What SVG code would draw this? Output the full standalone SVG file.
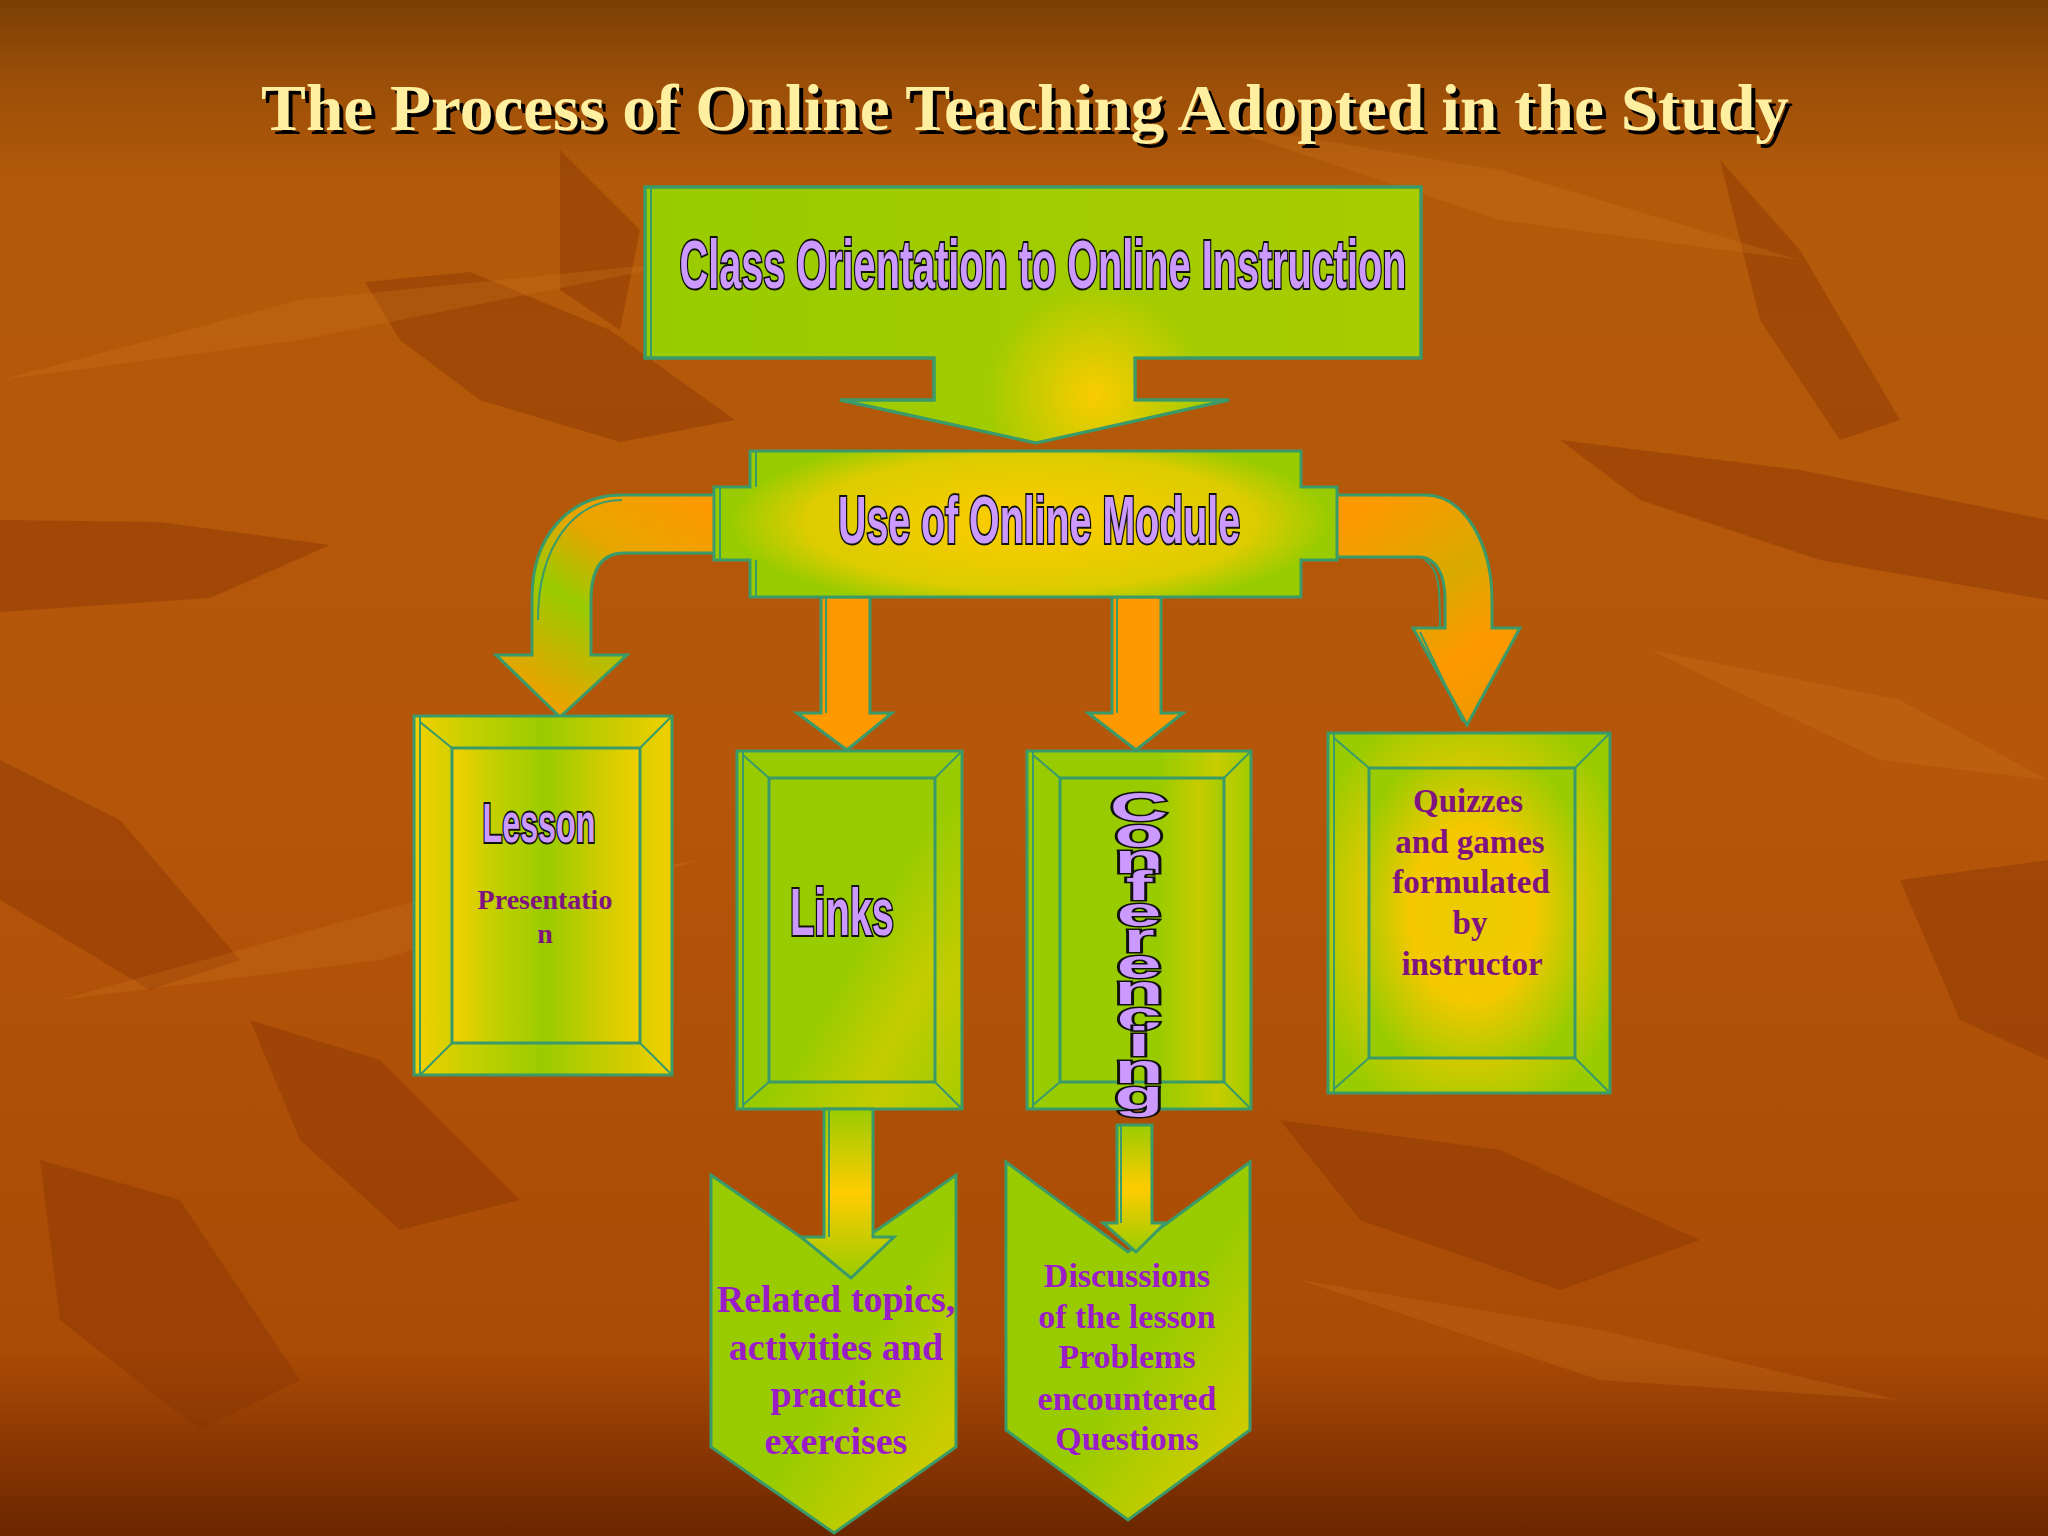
<svg xmlns="http://www.w3.org/2000/svg" width="2048" height="1536" viewBox="0 0 2048 1536">
<defs>
<linearGradient id="bg" x1="0" y1="0" x2="0" y2="1">
<stop offset="0" stop-color="#7A3F05"/>
<stop offset="0.05" stop-color="#9A4E08"/>
<stop offset="0.12" stop-color="#B35A0A"/>
<stop offset="0.5" stop-color="#B5560A"/>
<stop offset="0.88" stop-color="#AA4B06"/>
<stop offset="0.94" stop-color="#8C3803"/>
<stop offset="1" stop-color="#6A2600"/>
</linearGradient>
<linearGradient id="gTop" x1="0" y1="0" x2="1" y2="0">
<stop offset="0" stop-color="#99CC00"/>
<stop offset="1" stop-color="#A8CC00"/>
</linearGradient>
<radialGradient id="gTopGlow" cx="1095" cy="395" r="110" gradientUnits="userSpaceOnUse">
<stop offset="0" stop-color="#FFCC00" stop-opacity="0.95"/>
<stop offset="1" stop-color="#FFCC00" stop-opacity="0"/>
</radialGradient>
<radialGradient id="gMod" cx="1030" cy="522" r="300" gradientUnits="userSpaceOnUse" gradientTransform="translate(1030 522) scale(1 0.3) translate(-1030 -522)">
<stop offset="0" stop-color="#FFCC00"/>
<stop offset="0.75" stop-color="#DCCC00"/>
<stop offset="1" stop-color="#99CC00"/>
</radialGradient>
<linearGradient id="gLA" x1="700" y1="495" x2="560" y2="716" gradientUnits="userSpaceOnUse">
<stop offset="0" stop-color="#FF9900"/>
<stop offset="0.35" stop-color="#E6A600"/>
<stop offset="0.6" stop-color="#99CC00"/>
<stop offset="1" stop-color="#F0A000"/>
</linearGradient>
<linearGradient id="gRA" x1="1340" y1="520" x2="1470" y2="720" gradientUnits="userSpaceOnUse">
<stop offset="0" stop-color="#FF9900"/>
<stop offset="0.45" stop-color="#D8AA00"/>
<stop offset="0.75" stop-color="#FF9900"/>
<stop offset="1" stop-color="#F09800"/>
</linearGradient>
<linearGradient id="gLesson" x1="0" y1="0" x2="1" y2="0">
<stop offset="0" stop-color="#F5D000"/>
<stop offset="0.2" stop-color="#C8D000"/>
<stop offset="0.5" stop-color="#99CC00"/>
<stop offset="0.78" stop-color="#CCCC00"/>
<stop offset="1" stop-color="#F0D000"/>
</linearGradient>
<linearGradient id="gLinks" x1="0" y1="0" x2="1" y2="1">
<stop offset="0" stop-color="#99CC00"/>
<stop offset="0.55" stop-color="#99CC00"/>
<stop offset="0.8" stop-color="#C4CC00"/>
<stop offset="1" stop-color="#A6CC00"/>
</linearGradient>
<linearGradient id="gConf" x1="0" y1="0" x2="1" y2="0">
<stop offset="0" stop-color="#99CC00"/>
<stop offset="0.6" stop-color="#99CC00"/>
<stop offset="0.85" stop-color="#C8CC00"/>
<stop offset="1" stop-color="#A0CC00"/>
</linearGradient>
<radialGradient id="gQuiz" cx="0.5" cy="0.5" r="0.6">
<stop offset="0" stop-color="#E8CC00"/>
<stop offset="0.5" stop-color="#F5C800"/>
<stop offset="1" stop-color="#99CC00"/>
</radialGradient>
<linearGradient id="gChev" x1="0" y1="0" x2="1" y2="1">
<stop offset="0" stop-color="#99CC00"/>
<stop offset="0.55" stop-color="#99CC00"/>
<stop offset="0.85" stop-color="#CCCC00"/>
<stop offset="1" stop-color="#A8CC00"/>
</linearGradient>
<linearGradient id="gStem" x1="0" y1="0" x2="0" y2="1">
<stop offset="0" stop-color="#99CC00"/>
<stop offset="0.5" stop-color="#FFCC00"/>
<stop offset="1" stop-color="#99CC00"/>
</linearGradient>
<style>
.edge{stroke:#3A9A6A;stroke-width:3;stroke-linejoin:miter}
.thin{stroke:#3A9A6A;stroke-width:2;fill:none}
.wa{font-family:"Liberation Sans Narrow","Liberation Sans",Arial,sans-serif;font-weight:bold;fill:#CC99FF;stroke:#111;stroke-width:4;paint-order:stroke;text-anchor:middle}
.wc{font-family:"Liberation Sans",Arial,sans-serif;font-weight:900;fill:#CC99FF;stroke:#111;stroke-width:3;paint-order:stroke;text-anchor:middle;writing-mode:vertical-rl;text-orientation:upright}
.dp{font-family:"Liberation Serif","Times New Roman",serif;font-weight:bold;fill:#7F137F;text-anchor:middle}
.bp{font-family:"Liberation Serif","Times New Roman",serif;font-weight:bold;fill:#9A1CC6;text-anchor:middle}
.title{font-family:"Liberation Serif","Times New Roman",serif;font-weight:bold;font-size:66px;text-anchor:middle}
.dark{fill:#8A3604;opacity:0.45}
.light{fill:#D58025;opacity:0.22}
</style>
</defs>

<!-- background -->
<rect width="2048" height="1536" fill="url(#bg)"/>
<g id="leaves">
<polygon class="dark" points="365,282 470,272 610,330 735,420 620,442 480,400 400,340"/>
<polygon class="dark" points="0,520 160,522 330,545 210,598 0,612"/>
<polygon class="dark" points="560,150 640,230 620,330 560,290"/>
<polygon class="dark" points="1560,440 1800,470 2048,520 2048,600 1820,560 1640,500"/>
<polygon class="dark" points="1720,160 1800,250 1900,420 1840,440 1760,320"/>
<polygon class="dark" points="0,760 120,820 240,960 150,990 0,900"/>
<polygon class="dark" points="40,1160 180,1200 300,1380 200,1430 60,1320"/>
<polygon class="dark" points="1280,1120 1500,1150 1700,1240 1560,1290 1360,1220"/>
<polygon class="dark" points="1900,880 2048,860 2048,1060 1960,1020"/>
<polygon class="dark" points="250,1020 380,1060 520,1200 400,1230 300,1140"/>
<polygon class="light" points="0,380 300,300 700,260 300,340"/>
<polygon class="light" points="1200,120 1500,170 1800,260 1500,220"/>
<polygon class="light" points="1650,650 1900,700 2048,780 1880,760"/>
<polygon class="light" points="60,1000 420,900 700,860 380,960"/>
<polygon class="light" points="1300,1280 1600,1330 1900,1400 1600,1380"/>
</g>

<!-- title -->
<g id="title">
<text class="title" x="1029" y="134" fill="#000" textLength="1528" lengthAdjust="spacingAndGlyphs">The Process of Online Teaching Adopted in the Study</text>
<text class="title" x="1025" y="130" fill="#FFEFA0" textLength="1528" lengthAdjust="spacingAndGlyphs">The Process of Online Teaching Adopted in the Study</text>
</g>

<!-- connectors -->
<g id="connectors">
<path class="edge" fill="url(#gLA)" d="M 723 495 L 622 495 C 570 495, 532 535, 532 598 L 532 655 L 496 655 L 560 717 L 627 655 L 591 655 L 591 600 C 591 572, 600 553, 624 553 L 723 553 Z"/>
<path class="thin" d="M 538 620 C 538 545, 575 500, 622 500"/>
<path class="edge" fill="url(#gRA)" d="M 1330 495 L 1425 495 C 1465 495, 1492 545, 1492 600 L 1492 628 L 1520 628 L 1467 725 L 1413 628 L 1445 628 L 1445 600 C 1445 575, 1437 557, 1418 557 L 1330 557 Z"/>
<path class="thin" d="M 1425 560 C 1440 570, 1440 590, 1440 628 M 1420 632 L 1463 722"/>
<polygon class="edge" fill="#FF9900" points="821,597 870,597 870,713 892,713 847,750 797,713 821,713"/>
<line class="thin" x1="826" y1="597" x2="826" y2="713"/>
<polygon class="edge" fill="#FF9900" points="1112,597 1161,597 1161,713 1183,713 1136,750 1088,713 1112,713"/>
<line class="thin" x1="1117" y1="597" x2="1117" y2="713"/>
</g>

<!-- top node -->
<g id="node-orientation">
<path class="edge" fill="url(#gTop)" d="M 645 187 L 1421 187 L 1421 358 L 1135 358 L 1135 400 L 1229 400 L 1036 443 L 840 400 L 934 400 L 934 358 L 645 358 Z"/>
<path fill="url(#gTopGlow)" d="M 645 187 L 1421 187 L 1421 358 L 1135 358 L 1135 400 L 1229 400 L 1036 443 L 840 400 L 934 400 L 934 358 L 645 358 Z"/>
<path d="M 645 187 L 1421 187 L 1421 358 L 1135 358 L 1135 400 L 1229 400 L 1036 443 L 840 400 L 934 400 L 934 358 L 645 358 Z" fill="none" class="edge"/>
<line class="thin" x1="651" y1="187" x2="651" y2="358"/>
<text class="wa" x="1043" y="288" font-size="68" textLength="727" lengthAdjust="spacingAndGlyphs">Class Orientation to Online Instruction</text>
</g>

<!-- module node -->
<g id="node-module">
<path class="edge" fill="url(#gMod)" d="M 750 451 L 1301 451 L 1301 487 L 1337 487 L 1337 560 L 1301 560 L 1301 597 L 750 597 L 750 560 L 714 560 L 714 487 L 750 487 Z"/>
<line class="thin" x1="756" y1="451" x2="756" y2="487"/>
<line class="thin" x1="756" y1="560" x2="756" y2="597"/>
<line class="thin" x1="720" y1="487" x2="720" y2="560"/>
<text class="wa" x="1039" y="543" font-size="66" textLength="402" lengthAdjust="spacingAndGlyphs">Use of Online Module</text>
</g>

<!-- Lesson -->
<g id="node-lesson">
<rect class="edge" x="414" y="716" width="258" height="359" fill="url(#gLesson)"/>
<rect class="edge" x="452" y="748" width="188" height="295" fill="url(#gLesson)"/>
<path class="thin" d="M 420 716 L 420 1075 M 420 722 L 452 748 M 672 716 L 640 748 M 420 1075 L 452 1043 M 672 1075 L 640 1043"/>
<text class="wa" x="539" y="842" font-size="55" textLength="113" lengthAdjust="spacingAndGlyphs">Lesson</text>
<text class="dp" x="545" y="909" font-size="28">Presentatio</text>
<text class="dp" x="545" y="943" font-size="28">n</text>
</g>

<!-- Links -->
<g id="node-links">
<rect class="edge" x="737" y="751" width="225" height="358" fill="url(#gLinks)"/>
<rect class="edge" x="769" y="778" width="166" height="304" fill="url(#gLinks)"/>
<path class="thin" d="M 743 751 L 743 1109 M 743 755 L 769 778 M 962 751 L 935 778 M 743 1105 L 769 1082 M 962 1109 L 935 1082"/>
<text class="wa" x="842" y="935" font-size="66" textLength="104" lengthAdjust="spacingAndGlyphs">Links</text>
</g>

<!-- Conferencing -->
<g id="node-conferencing">
<rect class="edge" x="1027" y="751" width="224" height="358" fill="url(#gConf)"/>
<rect class="edge" x="1060" y="778" width="164" height="304" fill="url(#gConf)"/>
<path class="thin" d="M 1033 751 L 1033 1109 M 1033 755 L 1060 778 M 1251 751 L 1224 778 M 1033 1105 L 1060 1082 M 1251 1109 L 1224 1082"/>
<text class="wc" x="1139" y="951" font-size="40" textLength="332" lengthAdjust="spacing" transform="translate(1139 0) scale(2 1) translate(-1139 0)">Conferencing</text>
</g>

<!-- Quizzes -->
<g id="node-quizzes">
<rect class="edge" x="1328" y="733" width="282" height="360" fill="url(#gQuiz)"/>
<rect class="edge" x="1369" y="768" width="206" height="290" fill="url(#gQuiz)"/>
<path class="thin" d="M 1334 733 L 1334 1093 M 1334 738 L 1369 768 M 1610 733 L 1575 768 M 1334 1089 L 1369 1058 M 1610 1093 L 1575 1058"/>
<text class="dp" x="1468" y="812" font-size="33">Quizzes</text>
<text class="dp" x="1470" y="853" font-size="33">and games</text>
<text class="dp" x="1471" y="893" font-size="33">formulated</text>
<text class="dp" x="1470" y="934" font-size="33">by</text>
<text class="dp" x="1472" y="975" font-size="33">instructor</text>
</g>

<!-- bottom chevrons -->
<g id="node-related">
<polygon class="edge" fill="url(#gChev)" points="711,1175 834,1260 956,1175 956,1447 834,1533 711,1447"/>
<text class="bp" x="836" y="1312" font-size="38">Related topics,</text>
<text class="bp" x="836" y="1360" font-size="38">activities and</text>
<text class="bp" x="836" y="1407" font-size="38">practice</text>
<text class="bp" x="836" y="1454" font-size="38">exercises</text>
</g>
<g id="node-discussions">
<polygon class="edge" fill="url(#gChev)" points="1006,1162 1128,1252 1250,1162 1250,1430 1128,1520 1006,1430"/>
<text class="bp" x="1127" y="1287" font-size="34">Discussions</text>
<text class="bp" x="1127" y="1328" font-size="34">of the lesson</text>
<text class="bp" x="1127" y="1368" font-size="34">Problems</text>
<text class="bp" x="1127" y="1410" font-size="34">encountered</text>
<text class="bp" x="1127" y="1450" font-size="34">Questions</text>
</g>

<!-- lower connectors -->
<g id="connectors-lower">
<polygon class="edge" fill="url(#gStem)" points="824,1109 873,1109 873,1237 894,1237 851,1278 801,1237 824,1237"/>
<line class="thin" x1="829" y1="1109" x2="829" y2="1237"/>
<polygon class="edge" fill="url(#gStem)" points="1117,1125 1152,1125 1152,1223 1165,1223 1136,1252 1103,1223 1117,1223"/>
<line class="thin" x1="1121" y1="1125" x2="1121" y2="1223"/>
</g>
</svg>
